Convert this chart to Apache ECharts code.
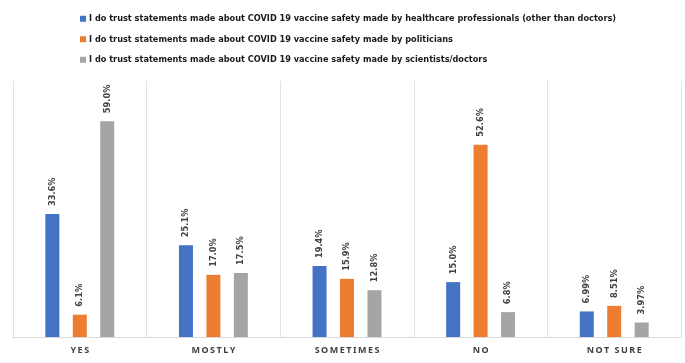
<!DOCTYPE html>
<html>
<head>
<meta charset="utf-8">
<script src="https://cdn.jsdelivr.net/npm/echarts@6/dist/echarts.min.js"></script>
<style>
  html, body { margin: 0; padding: 0; background: #fff; }
</style>
</head>
<body>
<div id="barChart" style="width:685px; height:363px;"></div>
<script>
var categories = ['YES', 'MOSTLY', 'SOMETIMES', 'NO', 'NOT SURE']
var seriesNames = [
  'I do trust statements made about COVID 19 vaccine safety made by healthcare professionals (other than doctors)',
  'I do trust statements made about COVID 19 vaccine safety made by politicians',
  'I do trust statements made about COVID 19 vaccine safety made by scientists/doctors'
]
var healthcareValues = [33.6, 25.1, 19.4, 15.0, 6.99]
var politicianValues = [6.1, 17.0, 15.9, 52.6, 8.51]
var scientistValues = [59.0, 17.5, 12.8, 6.8, 3.97]
var valueLabels = [
  ['33.6%', '25.1%', '19.4%', '15.0%', '6.99%'],
  ['6.1%', '17.0%', '15.9%', '52.6%', '8.51%'],
  ['59.0%', '17.5%', '12.8%', '6.8%', '3.97%']
]
var colors = ['#4472C4', '#ED7D31', '#A5A5A5']
var fontFamily = '"Liberation Sans Narrow", "DejaVu Sans Condensed", "Noto Sans", sans-serif'

var chart = echarts.init(document.getElementById('barChart'))

function makeSeries(idx, data) {
  return {
    name: seriesNames[idx],
    type: 'bar',
    data: data,
    barWidth: 14,
    barGap: '96%',
    itemStyle: { color: colors[idx] },
    label: {
      show: true,
      position: 'top',
      rotate: 90,
      align: 'left',
      verticalAlign: 'middle',
      distance: 8,
      color: '#404040',
      fontWeight: 'bold',
      fontSize: 9.2,
      fontFamily: fontFamily,
      formatter: function (p) { return valueLabels[idx][p.dataIndex] }
    }
  }
}

chart.setOption({
  animation: false,
  legend: {
    orient: 'vertical',
    left: 75,
    top: 8,
    itemWidth: 6,
    itemHeight: 6,
    itemGap: 9,
    icon: 'rect',
    textStyle: {
      fontSize: 9.1,
      fontWeight: 'bold',
      lineHeight: 11.5,
      color: '#1a1a1a',
      fontFamily: fontFamily,
      padding: [0, 0, 0, -2]
    },
    data: seriesNames
  },
  grid: { left: 13, right: 4, top: 81, bottom: 26 },
  xAxis: {
    type: 'category',
    data: categories,
    axisTick: { show: false },
    axisLine: { lineStyle: { color: '#D9D9D9' } },
    splitLine: { show: true, lineStyle: { color: '#E3E3E3' } },
    axisLabel: {
      color: '#404040',
      fontWeight: 'bold',
      fontSize: 9,
      margin: 9,
      fontFamily: '"Noto Sans", sans-serif',
      // spaced-out capitals like the original
      formatter: function (v) { return v.split('').join('\u2009') }
    }
  },
  yAxis: {
    type: 'value',
    min: 0,
    max: 70,
    show: false
  },
  series: [
    makeSeries(0, healthcareValues),
    makeSeries(1, politicianValues),
    makeSeries(2, scientistValues)
  ]
})
</script>
</body>
</html>
